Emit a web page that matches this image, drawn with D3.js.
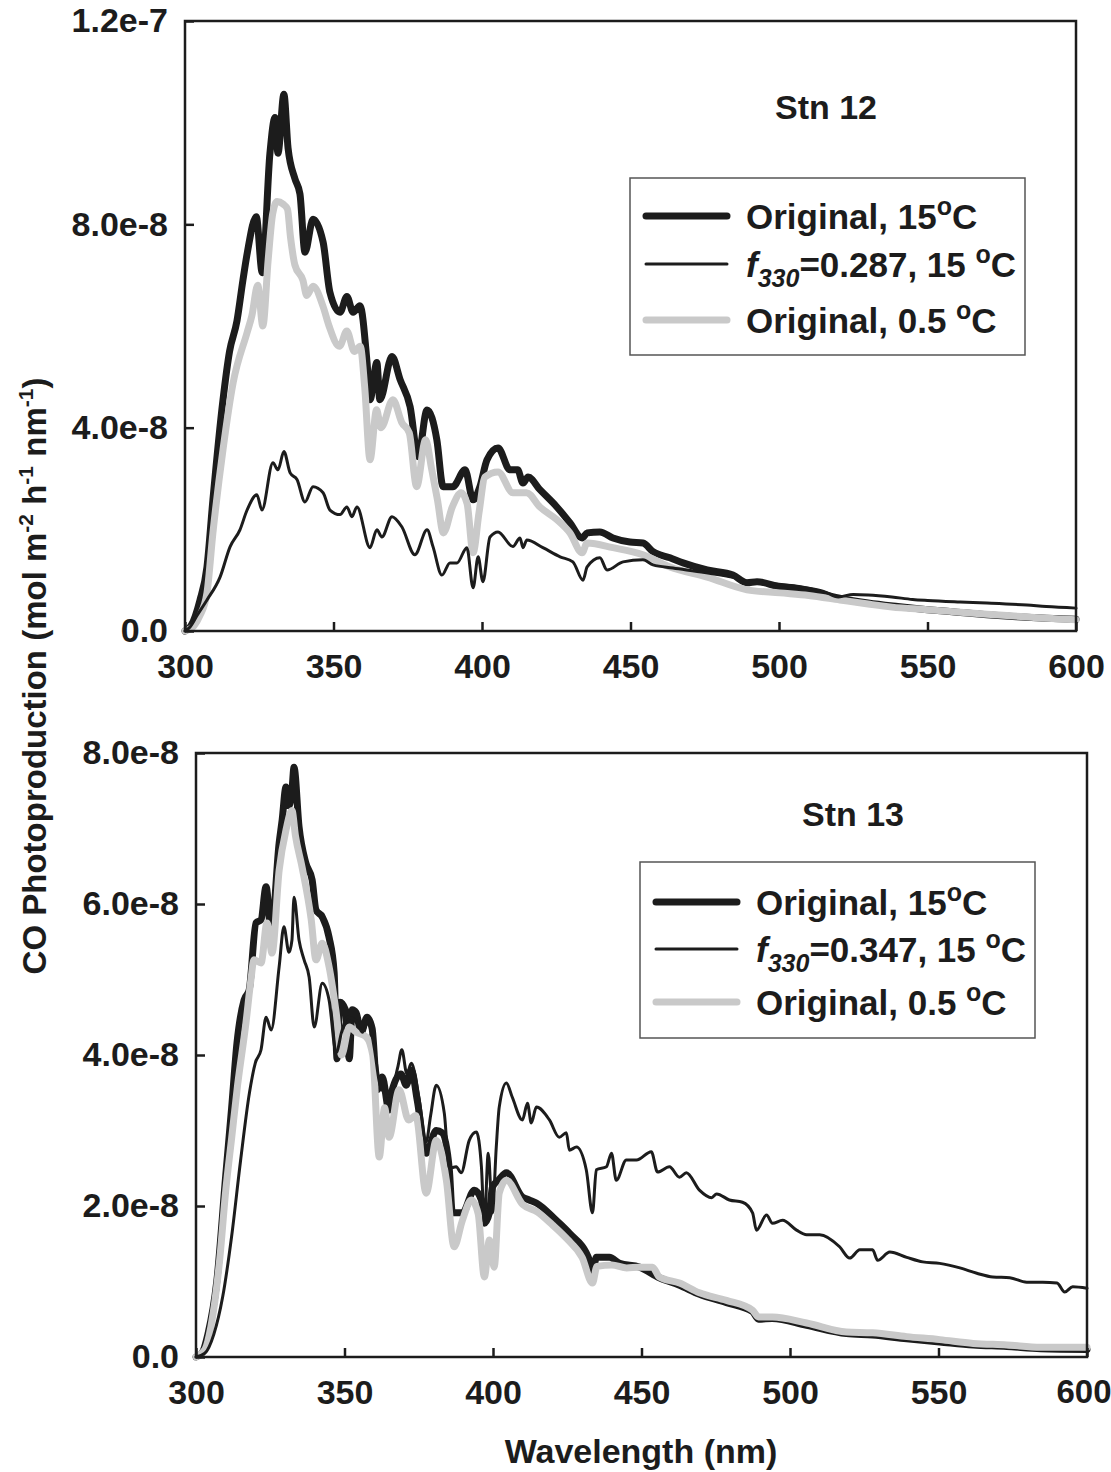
<!DOCTYPE html>
<html><head><meta charset="utf-8">
<script src="https://cdn.jsdelivr.net/npm/d3@7"></script>
<style>
body{margin:0;background:#fff}
svg{display:block}
text{font-family:"Liberation Sans",Arial,sans-serif;font-weight:bold;fill:#1c1c1c}
</style>
</head><body><svg id="c" width="1111" height="1472"></svg>
<script>
// ---------- DATA (values in units of 1e-8 mol m-2 h-1 nm-1) ----------
const xTicks = [300, 350, 400, 450, 500, 550, 600];
const xTickLabels = ["300", "350", "400", "450", "500", "550", "600"];
const stn12YTicks = [0, 4, 8, 12];
const stn12YTickLabels = ["0.0", "4.0e-8", "8.0e-8", "1.2e-7"];
const stn13YTicks = [0, 2, 4, 6, 8];
const stn13YTickLabels = ["0.0", "2.0e-8", "4.0e-8", "6.0e-8", "8.0e-8"];
const stationLabels = ["Stn 12", "Stn 13"];
const f330Values = ["0.287", "0.347"];

// Stn 12 — [wavelength nm, value]
const stn12_orig15 = [[300,0],[302,0.1],[305,0.6],[307.4,1.26],[309.4,2.58],[312.8,4.55],[315,5.5],[317.5,6.1],[319.5,6.9],[321,7.45],[324,8.15],[326,7.05],[328.6,9.4],[330.3,10.1],[331.3,9.4],[333.3,10.56],[334.7,9.5],[337,8.9],[338.7,8.6],[340.4,7.45],[343.1,8.1],[346.5,7.65],[348.8,6.66],[352.2,6.27],[354.5,6.58],[356.6,6.27],[358.9,6.4],[361.3,5.28],[362.3,4.55],[364.6,5.28],[365.6,4.55],[369.7,5.4],[372.4,4.95],[375.8,4.41],[378.5,3.43],[381.5,4.35],[384.8,3.76],[386.9,2.84],[390.2,2.84],[394.3,3.17],[397,2.58],[399.3,2.84],[401.7,3.37],[405.4,3.6],[409.4,3.17],[412,3.17],[413.8,2.91],[415.5,3.03],[419.5,2.78],[425.2,2.44],[429.6,2.13],[433.7,1.83],[435.4,1.93],[439.7,1.95],[444.1,1.83],[449.8,1.75],[454.2,1.73],[457.6,1.56],[463.3,1.44],[467.7,1.34],[475.8,1.2],[484.5,1.1],[489.2,0.95],[492.6,0.97],[500.3,0.87],[505,0.85],[510,0.8],[520,0.65],[530,0.55],[540,0.48],[550,0.42],[560,0.37],[570,0.32],[580,0.28],[590,0.25],[600,0.23]];
const stn12_f330 = [[300,0],[301.7,0.08],[304,0.3],[307.4,0.61],[311.8,1.06],[315.2,1.66],[318.5,1.99],[320.9,2.38],[324.2,2.68],[325.9,2.38],[329.6,3.31],[331.3,3.17],[333.3,3.53],[335.4,3.11],[337.7,2.98],[340.4,2.54],[343.1,2.84],[346.5,2.72],[348.8,2.38],[352.2,2.29],[354.5,2.44],[356.2,2.25],[357.9,2.44],[362.3,1.64],[364.6,1.99],[366.3,1.85],[369.7,2.25],[373,2.05],[377.4,1.5],[381.5,1.99],[383.5,1.66],[386.5,1.1],[389.2,1.34],[391.6,1.34],[394.9,1.64],[397,0.85],[398.7,1.46],[400.3,0.97],[402.7,1.85],[405.4,1.95],[410.4,1.66],[412.8,1.83],[413.8,1.64],[415.1,1.79],[420.5,1.64],[426.3,1.46],[430.6,1.36],[434,1.0],[435.4,1.26],[439.7,1.44],[442.1,1.2],[447.5,1.36],[454.2,1.4],[457.6,1.3],[464.3,1.24],[475,1.15],[485,1.05],[490,0.97],[495,0.95],[500,0.92],[505,0.88],[510,0.84],[515,0.78],[520,0.67],[525,0.72],[530,0.71],[538,0.67],[545,0.62],[550,0.6],[561,0.57],[570,0.55],[583.5,0.51],[590,0.48],[600,0.45]];
const stn12_orig05 = [[300,0],[303,0.1],[305,0.3],[307.4,0.75],[309.4,1.93],[312.8,3.57],[316.2,4.88],[320.9,5.87],[322.5,6.2],[324.5,6.8],[326.2,6.0],[328,7.3],[329.5,8.2],[331,8.45],[333,8.4],[334.5,8.3],[335.5,7.76],[337,7.2],[339.7,6.9],[341,6.6],[343.1,6.78],[346.5,6.38],[348.5,6.0],[352,5.6],[354.5,5.9],[357,5.5],[359,5.6],[360.5,4.8],[362.3,3.37],[364.5,4.35],[366,4.0],[370,4.55],[373,4.1],[375.5,3.9],[378,2.84],[381,3.76],[383,3.2],[385,2.58],[387,1.93],[390,2.44],[393,2.72],[395,2.5],[397,1.54],[399,2.33],[401,3.03],[405.4,3.13],[410.4,2.72],[415,2.72],[419.5,2.44],[425.2,2.19],[429.6,1.93],[433.7,1.54],[435.4,1.73],[444.1,1.64],[454.2,1.5],[463.3,1.26],[475.8,1.06],[489.2,0.81],[500.3,0.75],[510,0.7],[520.5,0.61],[530,0.53],[538,0.47],[550,0.42],[561,0.37],[570,0.33],[583,0.28],[590,0.25],[600,0.22]];

// Stn 13 — [wavelength nm, value]
const stn13_orig15 = [[300,0],[302,0.05],[304,0.3],[307,1.0],[310,2.4],[312,3.3],[313.8,4.16],[316.2,4.73],[317.9,4.86],[320.2,5.75],[321.9,5.79],[323.6,6.23],[325.3,5.62],[328,6.81],[329,7.11],[330.3,7.55],[331.3,7.3],[332.3,7.5],[333,7.81],[334.7,7.02],[337,6.54],[339.1,6.32],[340.4,5.92],[342.5,5.83],[344.8,5.56],[346.5,5.1],[347.5,3.95],[348.5,4.7],[350.3,4.6],[351.6,3.95],[352.6,4.6],[353.9,4.56],[355.6,4.3],[357.6,4.5],[359.3,4.35],[361,3.54],[362.7,3.71],[365,3.27],[366.1,3.54],[369,3.75],[370.8,3.6],[372.5,3.8],[374.5,3.4],[377.5,2.7],[380.9,3.0],[382.9,2.97],[385.3,2.48],[386.3,1.91],[389.7,1.91],[393.7,2.21],[396.1,2.08],[397.1,1.77],[398.8,1.91],[399.8,2.25],[402,2.35],[404.5,2.44],[409.9,2.12],[412.2,2.08],[414.6,2.04],[421.3,1.81],[425.7,1.64],[432.5,1.28],[433.5,1.1],[434.8,1.32],[439.2,1.32],[442.6,1.24],[449.3,1.19],[456,1.05],[462.8,0.95],[469.5,0.83],[478.6,0.72],[487.4,0.6],[489.4,0.5],[494,0.51],[505.6,0.42],[519,0.31],[527.8,0.29],[539.3,0.24],[550.4,0.2],[561.7,0.16],[573,0.14],[584.4,0.11],[600,0.1]];
const stn13_f330 = [[300,0],[303,0.05],[306,0.3],[309,0.8],[312,1.6],[315,2.6],[318,3.5],[320,3.9],[321.9,4.07],[323.6,4.5],[325.3,4.33],[328,5.17],[329.6,5.7],[331.3,5.36],[332.3,5.52],[333,6.09],[334.7,5.52],[336.4,5.26],[338.1,5.03],[339.8,4.37],[342.5,4.95],[344.8,4.73],[347.2,4.03],[349,4.3],[351,4.5],[354,4.45],[356,4.3],[358,4.45],[360,4.1],[362,3.6],[365,3.45],[368,3.85],[369.3,4.07],[371,3.75],[372.5,3.89],[375,3.45],[377.5,2.85],[379,3.2],[380.9,3.6],[383.6,3.23],[385.3,2.5],[387.6,2.52],[389.3,2.44],[392,2.87],[394.4,2.98],[396.1,2.52],[397.1,1.77],[398.4,2.7],[399.8,1.91],[401.1,2.78],[402.1,3.31],[404.5,3.63],[406.5,3.44],[409.9,3.14],[411.6,3.36],[412.9,3.1],[414.6,3.31],[419,3.14],[422.3,2.91],[424.7,2.97],[425.7,2.74],[428.1,2.78],[431.4,2.48],[433.5,1.91],[434.8,2.48],[438.2,2.52],[439.9,2.7],[441.5,2.34],[444.9,2.61],[448.3,2.61],[453.3,2.72],[455.4,2.45],[459.4,2.52],[462.8,2.38],[465.1,2.44],[469.5,2.21],[473.6,2.11],[475.3,2.16],[479.6,2.08],[484,2.05],[487.4,1.91],[488.7,1.68],[492.1,1.88],[494.1,1.77],[497.5,1.81],[502.2,1.68],[505.6,1.62],[510,1.62],[516.7,1.46],[520.1,1.31],[523.5,1.42],[527.8,1.42],[529.5,1.28],[533.6,1.39],[539.3,1.32],[544.7,1.26],[550.4,1.24],[557.2,1.18],[562.9,1.11],[568.3,1.06],[574,1.05],[579.7,0.99],[585.1,0.99],[589.9,0.98],[592.5,0.86],[595.2,0.93],[600,0.91]];
const stn13_orig05 = [[300,0],[303,0.1],[305,0.4],[308,1.3],[310,2.2],[312,2.9],[314,3.6],[316.8,4.42],[318.5,5.0],[319.5,5.26],[321.9,5.22],[323.9,5.75],[325.6,5.35],[328,6.45],[330.3,6.98],[332.3,7.24],[333.5,6.9],[335.7,6.49],[338.8,5.79],[340.4,5.26],[342.5,5.48],[344.8,5.17],[347.2,4.56],[349,4.0],[351.6,4.37],[354,4.3],[357.3,4.24],[359.5,4.0],[361.7,2.65],[363.5,3.3],[365,2.91],[368.4,3.54],[371.6,3.14],[374,3.2],[377.5,2.17],[380.9,2.87],[384.3,2.34],[386.9,1.46],[389.7,1.81],[392.7,2.08],[395,1.9],[397.1,1.06],[398.8,1.55],[400.4,1.19],[402.1,2.17],[404.5,2.34],[410,2.02],[415,1.92],[420,1.75],[425,1.56],[430,1.32],[433.5,0.98],[435,1.2],[440,1.22],[445,1.18],[449.3,1.19],[453.7,1.19],[456,1.06],[462.8,0.98],[469.5,0.85],[478.6,0.75],[487.4,0.62],[489.4,0.53],[494.1,0.53],[505.6,0.45],[519,0.33],[527.8,0.32],[539.3,0.27],[550.4,0.23],[561.7,0.18],[573,0.16],[584.4,0.13],[600,0.13]];

// ---------- DRAWING ----------
const svg = d3.select("#c");
svg.append("rect").attr("width",1111).attr("height",1472).attr("fill","#fff");

const INK = "#1c1c1c", GREY = "#c9c9c9";
const styles = [
  {stroke: INK, width: 7},
  {stroke: GREY, width: 7},
  {stroke: INK, width: 3}
];

const panels = [
  {x0:185, x1:1076, y0:631, y1:21, ymax:12, yt:stn12YTicks, ytl:stn12YTickLabels,
   series:[stn12_orig15, stn12_orig05, stn12_f330], stn:stationLabels[0], f:f330Values[0],
   stnX:826, stnY:119, lg:{x:630, y:178, w:395, h:177, rows:[216,264,320]}},
  {x0:196, x1:1087, y0:1357, y1:753, ymax:8, yt:stn13YTicks, ytl:stn13YTickLabels,
   series:[stn13_orig15, stn13_orig05, stn13_f330], stn:stationLabels[1], f:f330Values[1],
   stnX:853, stnY:826, lg:{x:640, y:862, w:395, h:176, rows:[902,949,1002]}}
];

panels.forEach((p, pi) => {
  const x = d3.scaleLinear().domain([300,600]).range([p.x0,p.x1]);
  const y = d3.scaleLinear().domain([0,p.ymax]).range([p.y0,p.y1]);
  const g = svg.append("g");

  // series
  const line = d3.line().x(d=>x(d[0])).y(d=>y(d[1])).curve(d3.curveMonotoneX);
  p.series.forEach((s,i) => {
    g.append("path").datum(s).attr("d", line).attr("fill","none")
      .attr("stroke", styles[i].stroke).attr("stroke-width", styles[i].width)
      .attr("stroke-linejoin","round").attr("stroke-linecap","round");
  });

  // frame
  g.append("rect").attr("x",p.x0).attr("y",p.y1).attr("width",p.x1-p.x0).attr("height",p.y0-p.y1)
    .attr("fill","none").attr("stroke",INK).attr("stroke-width",2.5);

  // axes
  const xa = g.append("g").attr("transform",`translate(0,${p.y0})`)
    .call(d3.axisBottom(x).tickValues(xTicks).tickFormat((d,i)=>xTickLabels[i]).tickSizeInner(-9).tickSizeOuter(0).tickPadding(23));
  const ya = g.append("g").attr("transform",`translate(${p.x0},0)`)
    .call(d3.axisLeft(y).tickValues(p.yt).tickFormat((d,i)=>p.ytl[i]).tickSizeInner(-9).tickSizeOuter(0).tickPadding(17));
  [xa,ya].forEach(a => {
    a.select(".domain").remove();
    a.selectAll(".tick line").attr("stroke",INK).attr("stroke-width",2.5);
    a.selectAll(".tick text").attr("fill",INK).style("font-size","34px").style("font-family","'Liberation Sans',Arial,sans-serif").style("font-weight","bold");
  });
  // keep the last bottom-panel label inside the page, as in the reference
  if (pi === 1) {
    xa.selectAll(".tick text").filter((d,i)=>i===xTicks.length-1).attr("text-anchor","end").attr("dx","24px").style("font-size","33px");
  }

  // station label
  g.append("text").attr("x",p.stnX).attr("y",p.stnY).attr("text-anchor","middle")
    .style("font-size","34px").text(p.stn);

  // legend
  const L = p.lg;
  g.append("rect").attr("x",L.x).attr("y",L.y).attr("width",L.w).attr("height",L.h)
    .attr("fill","#fff").attr("stroke","#555").attr("stroke-width",1.5);
  const order = [0,2,1];
  order.forEach((si,r) => {
    const cy = L.rows[r];
    g.append("line").attr("x1",L.x+16).attr("x2",L.x+97).attr("y1",cy).attr("y2",cy)
      .attr("stroke",styles[si].stroke).attr("stroke-width",styles[si].width).attr("stroke-linecap","round");
    const t = g.append("text").attr("x",L.x+116).attr("y",cy+13).style("font-size","35px");
    if (r===0) {
      t.append("tspan").text("Original, 15");
      t.append("tspan").attr("dy",-14).style("font-size","25px").text("o");
      t.append("tspan").attr("dy",14).text("C");
    } else if (r===1) {
      t.append("tspan").style("font-style","italic").text("f");
      t.append("tspan").attr("dy",10).style("font-style","italic").style("font-size","25px").text("330");
      t.append("tspan").attr("dy",-10).text("=" + p.f + ", 15 ");
      t.append("tspan").attr("dy",-14).style("font-size","25px").text("o");
      t.append("tspan").attr("dy",14).text("C");
    } else {
      t.append("tspan").text("Original, 0.5 ");
      t.append("tspan").attr("dy",-14).style("font-size","25px").text("o");
      t.append("tspan").attr("dy",14).text("C");
    }
  });
});

// axis titles
svg.append("text").attr("x",641).attr("y",1463).attr("text-anchor","middle")
  .style("font-size","34px").text("Wavelength (nm)");

const yt = svg.append("text").attr("transform","translate(46,676) rotate(-90)")
  .attr("text-anchor","middle").style("font-size","33px");
yt.append("tspan").text("CO Photoproduction (mol m");
yt.append("tspan").attr("dy",-13).style("font-size","21px").text("-2");
yt.append("tspan").attr("dy",13).text(" h");
yt.append("tspan").attr("dy",-13).style("font-size","21px").text("-1");
yt.append("tspan").attr("dy",13).text(" nm");
yt.append("tspan").attr("dy",-13).style("font-size","21px").text("-1");
yt.append("tspan").attr("dy",13).text(")");
</script>
</body></html>
